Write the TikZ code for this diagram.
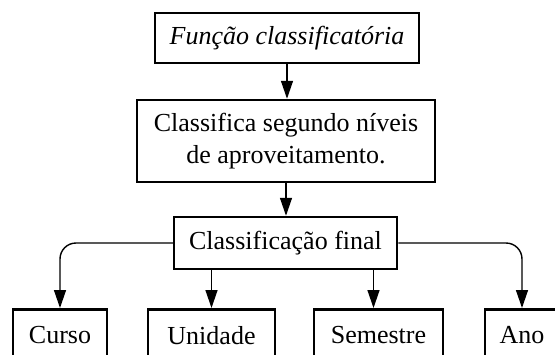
\documentclass[tikz,border=0pt]{standalone}
\usepackage{fontspec}
\setmainfont{Liberation Serif}
\usetikzlibrary{positioning,arrows.meta}

\begin{document}
\begin{tikzpicture}[
  x=1pt,y=-1pt,
  >={Triangle[length=18pt,width=12pt]},
  every node/.style={font=\fontsize{26}{32}\selectfont},
  caixa/.style={draw,line width=2.5pt,inner sep=0pt,align=center},
  seta/.style={->,line width=1.4pt},
  ramo/.style={seta,rounded corners=16pt}
]
\useasboundingbox (0,0) rectangle (555,354);

% caixas de cima
\node[caixa,minimum width=264pt,minimum height=50pt] (funcao) at (287,38)
  {\itshape Função classificatória};
\node[caixa,minimum width=298pt,minimum height=82pt] (classifica) at (286,141)
  {Classifica segundo níveis\\de aproveitamento.};
\node[caixa,minimum width=223pt,minimum height=52pt] (final) at (285.5,243)
  {Classificação final};

% caixas de baixo, cortadas pela margem
\node[caixa,anchor=north,minimum width=94pt,minimum height=52pt] (curso) at (60,308) {Curso};
\node[caixa,anchor=north,minimum width=127pt,minimum height=52pt] (unidade) at (211.5,308) {Unidade};
\node[caixa,anchor=north,minimum width=129pt,minimum height=52pt] (semestre) at (378.5,308) {Semestre};
\node[caixa,anchor=north,minimum width=74pt,minimum height=52pt] (ano) at (522,308) {Ano};

% setas
\draw[seta] (funcao.south) -- (funcao.south |- classifica.north);
\draw[seta] (classifica.south) -- (classifica.south |- final.north);
\draw[ramo] (final.west) -| (curso.north);
\draw[ramo] (final.east) -| (ano.north);
\draw[seta] (final.south -| unidade.north) -- (unidade.north);
\draw[seta] ([xshift=-5pt]final.south -| semestre.north) -- ([xshift=-5pt]semestre.north);
\end{tikzpicture}
\end{document}
